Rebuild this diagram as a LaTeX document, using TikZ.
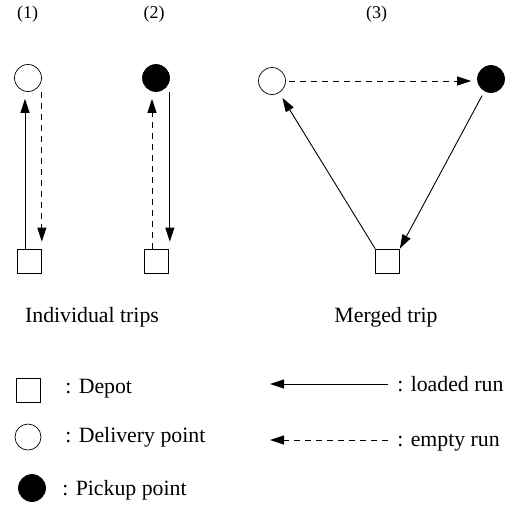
\documentclass[tikz,border=0pt]{standalone}
\usepackage{fontspec}
\setmainfont{Liberation Serif}
\usetikzlibrary{arrows.meta}

\begin{document}
\begin{tikzpicture}[x=1pt,y=-1pt, >={Triangle[length=14pt,width=9pt]}, line width=0.9pt,
        depot/.style={draw, minimum size=24pt, inner sep=0pt, line width=0.7pt},
        delivery/.style={draw, circle, minimum size=27pt, inner sep=0pt, line width=0.7pt},
        pickup/.style={delivery, fill=black},
        loaded/.style={->},
        emptyrun/.style={->, dash pattern=on 6pt off 5pt},
        txt/.style={inner sep=0pt, font=\fontsize{21.8}{26}\selectfont}]
                \useasboundingbox (0,0) rectangle (526,504);
                \foreach \x/\t in {27.5/1,154/2,376.5/3}
                    {
                        \node[anchor=base, inner sep=0pt, font=\fontsize{18}{22}\selectfont] (num\t) at (\x,18) {(\t)};
                    }
                \node[delivery] (d1) at (28,78) {};
                \node[depot] (s1) at (29,261) {};
                \draw[loaded, shorten >=7pt] ([xshift=-4pt]s1.north) -- ([xshift=-4pt]s1.north |- d1.south);
                \draw[emptyrun, shorten >=7pt] (d1.south -| d1.east) -- (d1.east |- s1.north);
                \node[pickup] (p2) at (156,78) {};
                \node[depot] (s2) at (156,261) {};
                \draw[emptyrun, shorten >=7pt] ([xshift=-4pt]s2.north) -- ([xshift=-4pt]s2.north |- p2.south);
                \draw[loaded, shorten >=7pt] (p2.south -| p2.east) -- (p2.east |- s2.north);
                \node[delivery] (d3) at (272,81) {};
                \node[pickup] (p3) at (491,79) {};
                \node[depot] (s3) at (387.5,261) {};
                \draw[emptyrun, shorten <=3pt, shorten >=6pt] (d3.east) -- (d3.east -| p3.west);
                \draw[loaded, shorten >=6pt] (s3.north west) -- (d3);
                \draw[loaded, shorten <=5pt] (p3) -- (s3.north east);
                \node[txt, anchor=base] (indiv) at (92,322) {Individual trips};
                \node[txt, anchor=base] (merged) at (386,322) {Merged trip};
                \node[depot] (ls) at (28.5,390) {};
                \node[delivery, minimum size=26pt] (ld) at (28,437) {};
                \node[pickup] (lp) at (32,488) {};
                \node[txt, anchor=base west] (lstxt) at (65,393) {: Depot};
                \node[txt, anchor=base west] (ldtxt) at (65,442) {: Delivery point};
                \node[txt, anchor=base west] (lptxt) at (62,495) {: Pickup point};
                \node[txt, anchor=base west] (lltxt) at (397,391) {: loaded run};
                \node[txt, anchor=base west] (letxt) at (397,446) {: empty run};
                \coordinate (la) at (388,384);
                \coordinate (lb) at (270,384);
                \coordinate (ea) at (388,440);
                \coordinate (eb) at (270,440);
                \draw[loaded] (la) -- (lb);
                \draw[emptyrun] (ea) -- (eb);
            \end{tikzpicture}
\end{document}
